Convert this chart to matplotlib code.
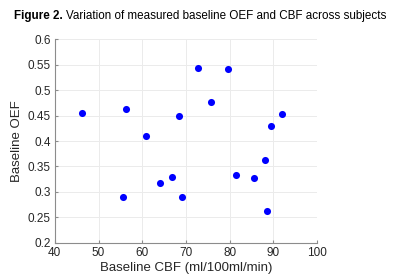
import numpy as np
import matplotlib
matplotlib.use("Agg")
import matplotlib.pyplot as plt

plt.rcParams['font.family'] = ['Liberation Sans', 'DejaVu Sans']

# baseline values per subject
cbf = [46.2, 56.3, 60.8, 68.5, 72.8, 75.8, 79.7, 91.9, 89.4,
       55.6, 64.0, 66.9, 69.0, 88.0, 81.4, 85.5, 88.5]
oef = [0.456, 0.463, 0.410, 0.449, 0.544, 0.477, 0.541, 0.453, 0.429,
       0.289, 0.317, 0.329, 0.289, 0.362, 0.334, 0.327, 0.263]

xticks = [40, 50, 60, 70, 80, 90, 100]
yticks = [0.2, 0.25, 0.3, 0.35, 0.4, 0.45, 0.5, 0.55, 0.6]
ytick_labels = ['0.2', '0.25', '0.3', '0.35', '0.4', '0.45', '0.5', '0.55', '0.6']

fig = plt.figure(figsize=(4, 2.79), dpi=100)
ax = fig.add_axes([0.137, 0.13, 0.656, 0.729])

ax.scatter(cbf, oef, s=26, color='#0000ff', zorder=3, linewidths=0)

ax.set_xlim(40, 100)
ax.set_ylim(0.2, 0.6)
ax.set_xticks(xticks)
ax.set_yticks(yticks)
ax.set_yticklabels(ytick_labels)
ax.grid(True, color='#ebebeb', linewidth=0.7)
ax.set_axisbelow(True)
for s in ['top', 'right']:
    ax.spines[s].set_visible(False)
for s in ['left', 'bottom']:
    ax.spines[s].set_color('#8c8c8c')
    ax.spines[s].set_linewidth(0.8)
ax.tick_params(direction='in', length=2.5, color='#8c8c8c', labelsize=8.5,
               labelcolor='#262626', pad=3)
ax.set_xlabel('Baseline CBF (ml/100ml/min)', fontsize=9.5, color='#262626', labelpad=2)
ax.set_ylabel('Baseline OEF', fontsize=9.5, color='#262626', labelpad=3)

t1 = fig.text(0.036, 0.933, 'Figure 2.', fontsize=8.4, fontweight='bold', va='baseline')
fig.canvas.draw()
bb = t1.get_window_extent()
x2 = bb.x1 / fig.bbox.width + 0.006
fig.text(x2, 0.933, 'Variation of measured baseline OEF and CBF across subjects',
         fontsize=8.4, va='baseline')

fig.savefig('out.png', dpi=100)
